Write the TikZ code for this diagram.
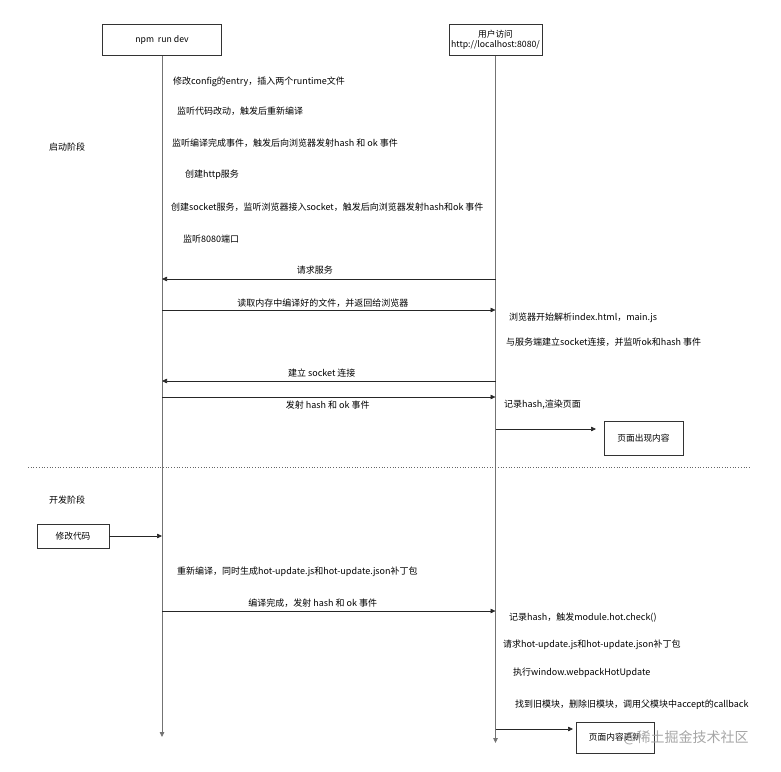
\documentclass[tikz,border=0pt]{standalone}
\usepackage{fontspec}
\setmainfont{Noto Sans CJK SC}
\usetikzlibrary{arrows.meta, positioning, calc}

\begin{document}
\begin{tikzpicture}[x=1pt, y=-1pt,
  box/.style={draw=black!80, line width=0.7pt, minimum height=31pt, inner sep=2pt, font=\fontsize{8.7}{10.5}\selectfont},
  note/.style={anchor=west, inner sep=0pt, font=\fontsize{9}{10}\selectfont, text=black},
  lbl/.style={inner sep=0pt, font=\fontsize{9}{10}\selectfont, text=black},
  life/.style={draw=black!55, line width=0.8pt, -{Triangle[length=5pt,width=4.5pt]}},
  msg/.style={draw=black!85, line width=0.6pt, -{Triangle[length=5pt,width=4.5pt]}}]

\useasboundingbox (0,0) rectangle (781,771);

% --- cabecalhos e linhas de vida ---
\node[box, minimum width=119pt] (npm) at (162,40) {npm\ \ run dev};
\node[box, minimum width=93pt, align=center] (srv) at (495.5,40) {用户访问\\http://localhost:8080/};
\coordinate (npmEnd) at (npm.south |- 0,737);
\coordinate (srvEnd) at (srv.south |- 0,743);
\draw[life] (npm.south) -- (npmEnd);
\draw[life] (srv.south) -- (srvEnd);

% --- fase de arranque ---
\node[lbl] (phase1) at (67,147) {启动阶段};
\node[note] (s1) at (173,82) {修改config的entry，插入两个runtime文件};
\node[note] (s2) at (177,111) {监听代码改动，触发后重新编译};
\node[note] (s3) at (172,143) {监听编译完成事件，触发后向浏览器发射hash 和 ok 事件};
\node[note] (s4) at (185,175) {创建http服务};
\node[note] (s5) at (171,207) {创建socket服务，监听浏览器接入socket，触发后向浏览器发射hash和ok 事件};
\node[note] (s6) at (183,239) {监听8080端口};

\draw[msg] (srv.south |- 0,279) -- (npm.south |- 0,279) node[midway, lbl, yshift=9pt, xshift=-14pt] {请求服务};
\draw[msg] (npm.south |- 0,310) -- (srv.south |- 0,310) node[midway, lbl, yshift=7pt, xshift=-6pt] {读取内存中编译好的文件，并返回给浏览器};
\node[note] (b1) at (509,318) {浏览器开始解析index.html，main.js};
\node[note] (b2) at (506,342) {与服务端建立socket连接，并监听ok和hash 事件};
\draw[msg] (srv.south |- 0,381) -- (npm.south |- 0,381) node[midway, lbl, yshift=8pt, xshift=-7pt] {建立 socket 连接};
\draw[msg] (npm.south |- 0,397) -- (srv.south |- 0,397) node[midway, lbl, yshift=-8pt, xshift=-1pt] {发射 hash 和 ok 事件};
\node[note] (b3) at (504,405) {记录hash,渲染页面};
\node[box, minimum width=79pt, minimum height=34pt] (show) at (643.5,438) {页面出现内容};
\coordinate (showTip) at (596,429);
\draw[msg] (srv.south |- showTip) -- (showTip);

% --- separador ---
\draw[black!60, line width=0.7pt, dotted] (28,467) -- (750,467);

% --- fase de desenvolvimento ---
\node[lbl] (phase2) at (67,500) {开发阶段};
\node[box, minimum width=72pt, minimum height=24pt] (edit) at (73,536) {修改代码};
\draw[msg] (edit.east) -- (npm.south |- edit.east);
\node[note] (d1) at (177,572) {重新编译，同时生成hot-update.js和hot-update.json补丁包};
\draw[msg] (npm.south |- 0,611) -- (srv.south |- 0,611) node[midway, lbl, yshift=8pt, xshift=-16pt] {编译完成，发射 hash 和 ok 事件};
\node[note] (h1) at (509,618) {记录hash，触发module.hot.check()};
\node[note] (h2) at (503,645) {请求hot-update.js和hot-update.json补丁包};
\node[note] (h3) at (513,673) {执行window.webpackHotUpdate};
\node[note] (h4) at (515,705) {找到旧模块，删除旧模块，调用父模块中accept的callback};
\node[box, minimum width=78pt, minimum height=31pt] (upd) at (615,737.5) {页面内容更新};
\coordinate (updTip) at (573,729);
\draw[msg] (srv.south |- updTip) -- (updTip);

\node[inner sep=0pt, text=black!35, font=\fontsize{14}{16}\selectfont] (mark) at (686,738) {@稀土掘金技术社区};
\end{tikzpicture}
\end{document}
